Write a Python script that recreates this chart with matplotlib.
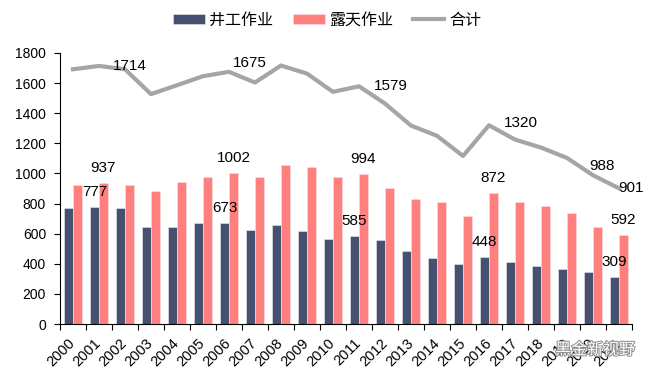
import numpy as np
import matplotlib
matplotlib.use("Agg")
import matplotlib.pyplot as plt
import matplotlib.patheffects as pe

plt.rcParams['font.family'] = ['Liberation Sans', 'Noto Sans CJK SC']

years = [str(y) for y in range(2000, 2022)]
underground = [771, 777, 771, 645, 642, 671, 673, 627, 658, 620, 565,
               585, 560, 487, 439, 401, 448, 414, 388, 365, 343, 309]
open_pit = [921, 937, 921, 882, 944, 975, 1002, 977, 1059, 1043, 977,
            994, 904, 831, 811, 715, 872, 811, 784, 738, 645, 592]
total = [1692, 1714, 1692, 1527, 1586, 1646, 1675, 1604, 1717, 1663, 1542,
         1579, 1464, 1318, 1250, 1116, 1320, 1225, 1172, 1103, 988, 901]

# which points carry value labels
bar_label_idx = [1, 6, 11, 16, 21]
line_label_idx = [1, 6, 11, 16, 20, 21]
line_label_off = [(31, 0), (21, 9), (32, 0), (32, 2), (9, 9), (12, 0)]

c_dark = '#45516F'
c_red = '#FF7F7F'
c_line = '#A5A5A5'

fig = plt.figure(figsize=(6.54, 3.8), dpi=100)
ax = fig.add_axes([60 / 654, 56 / 380, 572 / 654, 271 / 380])

x = np.arange(len(years))
w = 0.35
b1 = ax.bar(x - 0.17, underground, w, color=c_dark, edgecolor='#E8E8EE', linewidth=0.4, label='井工作业')
b2 = ax.bar(x + 0.17, open_pit, w, color=c_red, edgecolor='#FFE0E0', linewidth=0.4, label='露天作业')
l1, = ax.plot(x, total, color=c_line, linewidth=3, label='合计')

for i in bar_label_idx:
    ax.annotate(str(underground[i]), (x[i] - 0.17, underground[i]), xytext=(0, 15),
                textcoords='offset pixels', ha='center', va='center', fontsize=11)
    ax.annotate(str(open_pit[i]), (x[i] + 0.17, open_pit[i]), xytext=(0, 15),
                textcoords='offset pixels', ha='center', va='center', fontsize=11)
for i, (dx, dy) in zip(line_label_idx, line_label_off):
    ax.annotate(str(total[i]), (x[i], total[i]), xytext=(dx, dy),
                textcoords='offset pixels', ha='center', va='center', fontsize=11)

ax.set_xlim(-0.5, len(years) - 0.5)
ax.set_ylim(0, 1800)
ax.set_yticks(range(0, 1801, 200))
ax.tick_params(axis='y', labelsize=10, length=4, width=0.8, pad=6)

ax.set_xticks(x)
ax.set_xticklabels(years, rotation=45, ha='right', va='center', rotation_mode='anchor', fontsize=10.5)
ax.tick_params(axis='x', which='major', length=0, pad=12)
ax.set_xticks(np.arange(-0.5, len(years)), minor=True)
ax.tick_params(axis='x', which='minor', length=4, width=0.8)

for s in ['top', 'right']:
    ax.spines[s].set_visible(False)
for s in ['left', 'bottom']:
    ax.spines[s].set_linewidth(0.8)

fig.legend(handles=[b1, b2, l1], loc='center', bbox_to_anchor=(0.5, 0.947), ncol=3,
           frameon=False, fontsize=11.5, handlelength=2.0, handleheight=0.6,
           handletextpad=0.3, columnspacing=1.2)

# watermark
fig.text(0.849, 0.079, '黑金新视野', fontsize=11.5, color='white', va='center',
         path_effects=[pe.withStroke(linewidth=1.5, foreground='#909090')])

fig.savefig('out.png', dpi=100)
